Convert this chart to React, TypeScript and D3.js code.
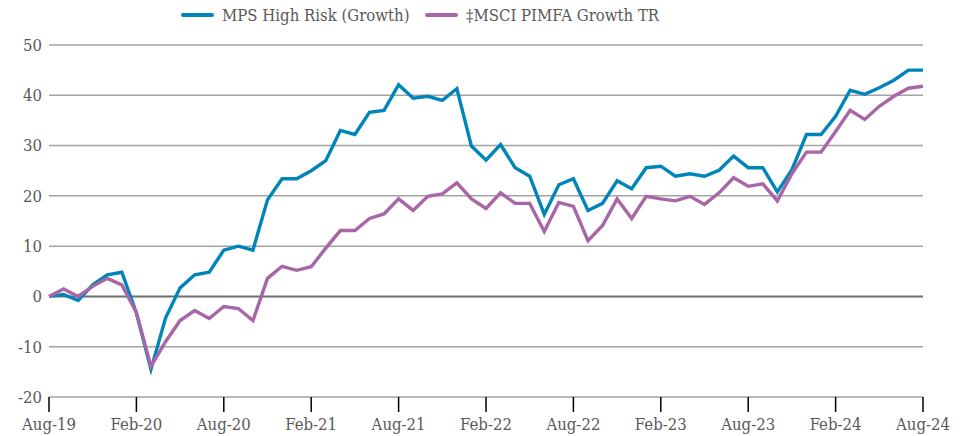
import * as d3 from 'd3';

const months = [
  'Aug-19', 'Sep-19', 'Oct-19', 'Nov-19', 'Dec-19', 'Jan-20', 'Feb-20', 'Mar-20', 'Apr-20', 'May-20', 'Jun-20', 'Jul-20',
  'Aug-20', 'Sep-20', 'Oct-20', 'Nov-20', 'Dec-20', 'Jan-21', 'Feb-21', 'Mar-21', 'Apr-21', 'May-21', 'Jun-21', 'Jul-21',
  'Aug-21', 'Sep-21', 'Oct-21', 'Nov-21', 'Dec-21', 'Jan-22', 'Feb-22', 'Mar-22', 'Apr-22', 'May-22', 'Jun-22', 'Jul-22',
  'Aug-22', 'Sep-22', 'Oct-22', 'Nov-22', 'Dec-22', 'Jan-23', 'Feb-23', 'Mar-23', 'Apr-23', 'May-23', 'Jun-23', 'Jul-23',
  'Aug-23', 'Sep-23', 'Oct-23', 'Nov-23', 'Dec-23', 'Jan-24', 'Feb-24', 'Mar-24', 'Apr-24', 'May-24', 'Jun-24', 'Jul-24',
  'Aug-24',
];

const mpsHighRisk = [
  0, 0.4, -0.8, 2.3, 4.3, 4.8, -3.3, -14.5, -4.3, 1.7, 4.3, 4.8,
  9.2, 10.0, 9.2, 19.2, 23.4, 23.4, 25.0, 27.0, 33.0, 32.2, 36.6, 37.0,
  42.1, 39.4, 39.8, 39.0, 41.3, 29.9, 27.1, 30.2, 25.6, 23.9, 16.3, 22.2,
  23.4, 17.1, 18.5, 23.0, 21.4, 25.6, 25.9, 23.9, 24.4, 23.9, 25.1, 27.9,
  25.6, 25.6, 20.8, 25.2, 32.2, 32.2, 35.8, 41.0, 40.2, 41.5, 43.0, 45.0,
  45.0,
];

const msciPimfaGrowth = [
  0, 1.5, 0, 2.0, 3.6, 2.3, -3.2, -13.9, -9.0, -4.8, -2.8, -4.4,
  -2.0, -2.4, -4.8, 3.6, 6.0, 5.2, 5.9, 9.6, 13.1, 13.1, 15.5, 16.4,
  19.4, 17.1, 19.9, 20.4, 22.6, 19.4, 17.5, 20.6, 18.5, 18.5, 12.9, 18.7,
  17.9, 11.1, 14.1, 19.4, 15.5, 19.9, 19.4, 19.0, 19.9, 18.3, 20.6, 23.6,
  21.9, 22.4, 19.0, 24.4, 28.7, 28.7, 32.8, 37.0, 35.2, 37.8, 39.8, 41.4,
  41.8,
];

const yTicks = [-20, -10, 0, 10, 20, 30, 40, 50];
const seriesNames = ['MPS High Risk (Growth)', '\u2021MSCI PIMFA Growth TR'];
const seriesColors = ['#0085bb', '#a866a6'];

const W = 966;
const H = 436;
const margin = { top: 45, right: 43, bottom: 39, left: 49 };
const font = '"DejaVu Serif Condensed", "DejaVu Serif", serif';
const fs = 16.6;

export default function App() {
  const x = d3
    .scaleLinear()
    .domain([0, months.length - 1])
    .range([margin.left, W - margin.right]);
  const y = d3
    .scaleLinear()
    .domain([-20, 50])
    .range([H - margin.bottom, margin.top]);

  const line = d3
    .line<number>()
    .x((_, i) => x(i))
    .y((d) => y(d));

  const series = [mpsHighRisk, msciPimfaGrowth];
  const xTickIdx = months.map((_, i) => i).filter((i) => i % 6 === 0);

  return (
    <svg
      width={W}
      height={H}
      style={{ position: 'absolute', left: 0, top: 0, background: '#fff' }}
      fontFamily={font}
    >
      {/* gridlines */}
      {yTicks.map((t) => (
        <line
          key={t}
          x1={x(0)}
          x2={x(months.length - 1)}
          y1={y(t)}
          y2={y(t)}
          stroke={t === 0 ? '#6e6e6e' : '#a3a3a3'}
          strokeWidth={t === 0 ? 2 : 1.5}
        />
      ))}
      {yTicks.map((t) => (
        <text
          key={'l' + t}
          x={margin.left - 7}
          y={y(t)}
          dy="0.35em"
          textAnchor="end"
          fontSize={fs}
          fill="#595959"
        >
          {t}
        </text>
      ))}

      {/* x ticks */}
      {xTickIdx.map((i) => (
        <g key={i}>
          <line x1={x(i)} x2={x(i)} y1={y(-20)} y2={y(-20) + 15} stroke="#000" strokeWidth={1.5} />
          <text x={x(i)} y={H - 6} textAnchor="middle" fontSize={fs} fill="#595959">
            {months[i]}
          </text>
        </g>
      ))}

      {/* series */}
      {series.map((s, k) => (
        <path
          key={k}
          d={line(s) || ''}
          fill="none"
          stroke={seriesColors[k]}
          strokeWidth={3.4}
          strokeLinejoin="miter"
        />
      ))}

      {/* legend */}
      {[183, 427].map((lx, k) => (
        <g key={'lg' + k}>
          <line x1={lx} x2={lx + 29} y1={15} y2={15} stroke={seriesColors[k]} strokeWidth={4} strokeLinecap="round" />
          <text x={lx + 39} y={15} dy="0.35em" fontSize={fs} fill="#595959">
            {seriesNames[k]}
          </text>
        </g>
      ))}
    </svg>
  );
}
